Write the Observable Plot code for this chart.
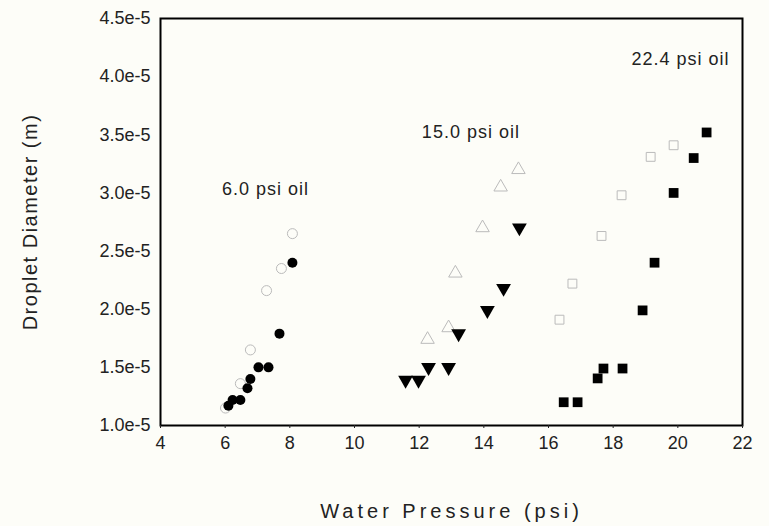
<!DOCTYPE html>
<html><head>
<meta charset="utf-8">
<script src="https://cdn.jsdelivr.net/npm/d3@7"></script>
<script src="https://cdn.jsdelivr.net/npm/@observablehq/plot@0.6"></script>
<style>
body{margin:0;background:#fdfdf8;}
#chart svg{background:#fdfdf8;}
</style>
</head><body><div id="chart"></div>
<script>
// 6.0 psi oil
const oil6FilledPressure = [6.1, 6.23, 6.47, 6.69, 6.78, 7.03, 7.34, 7.68, 8.08];
const oil6FilledDiameter = [1.17e-5, 1.22e-5, 1.22e-5, 1.32e-5, 1.40e-5, 1.50e-5, 1.50e-5, 1.79e-5, 2.40e-5];
const oil6OpenPressure = [6.01, 6.47, 6.78, 7.28, 7.74, 8.08];
const oil6OpenDiameter = [1.15e-5, 1.36e-5, 1.65e-5, 2.16e-5, 2.35e-5, 2.65e-5];
// 15.0 psi oil
const oil15FilledPressure = [11.58, 11.98, 12.29, 12.91, 13.22, 14.11, 14.61, 15.10];
const oil15FilledDiameter = [1.39e-5, 1.39e-5, 1.50e-5, 1.50e-5, 1.79e-5, 1.99e-5, 2.18e-5, 2.70e-5];
const oil15OpenPressure = [12.26, 12.91, 13.12, 13.96, 14.52, 15.07];
const oil15OpenDiameter = [1.74e-5, 1.84e-5, 2.31e-5, 2.70e-5, 3.05e-5, 3.20e-5];
// 22.4 psi oil
const oil22FilledPressure = [16.47, 16.9, 17.52, 17.70, 18.29, 18.91, 19.28, 19.87, 20.49, 20.89];
const oil22FilledDiameter = [1.2e-5, 1.2e-5, 1.405e-5, 1.49e-5, 1.49e-5, 1.99e-5, 2.40e-5, 3.0e-5, 3.30e-5, 3.52e-5];
const oil22OpenPressure = [16.34, 16.74, 17.64, 18.26, 19.16, 19.87];
const oil22OpenDiameter = [1.91e-5, 2.22e-5, 2.63e-5, 2.98e-5, 3.31e-5, 3.41e-5];

const seriesLabels = ["6.0 psi oil", "15.0 psi oil", "22.4 psi oil"];
const labelPressure = [7.25, 13.6, 20.08];
const labelDiameter = [3.03e-5, 3.52e-5, 4.15e-5];

const xTicks = [4, 6, 8, 10, 12, 14, 16, 18, 20, 22];
const yTicks = [1.0e-5, 1.5e-5, 2.0e-5, 2.5e-5, 3.0e-5, 3.5e-5, 4.0e-5, 4.5e-5];

const rows = (xs, ys) => xs.map((x, i) => ({x, y: ys[i]}));
const labels = seriesLabels.map((t, i) => ({t, x: labelPressure[i], y: labelDiameter[i]}));

const chart = Plot.plot({
  width: 769, height: 526,
  marginLeft: 160, marginRight: 27, marginTop: 18, marginBottom: 101,
  style: {fontFamily: "Liberation Sans, Arial, sans-serif", fontSize: "18px", background: "#fdfdf8", color: "#222"},
  x: {domain: [4, 22]},
  y: {domain: [1.0e-5, 4.5e-5]},
  marks: [
    Plot.frame({stroke: "black", strokeWidth: 2}),
    Plot.axisX({ticks: xTicks, tickFormat: d => String(d), tickSize: 3, tickPadding: 8, fontSize: 18,
      label: null}),
    Plot.axisY({ticks: yTicks, tickFormat: d => d.toExponential(1), tickSize: 0, tickPadding: 10, fontSize: 18,
      label: null}),
    Plot.text(["Water Pressure (psi)"], {frameAnchor: "bottom", dy: 92, fontSize: 20, fill: "#222"}),
    Plot.text(["Droplet Diameter (m)"], {frameAnchor: "left", textAnchor: "middle", dx: -130, rotate: -90, fontSize: 20, fill: "#222"}),
    Plot.dot(rows(oil6OpenPressure, oil6OpenDiameter), {x: "x", y: "y", symbol: "circle", r: 5, stroke: "#bbb", strokeWidth: 1, fill: "none"}),
    Plot.dot(rows(oil15OpenPressure, oil15OpenDiameter), {x: "x", y: "y", symbol: "triangle", r: 5, stroke: "#bbb", strokeWidth: 1, fill: "none"}),
    Plot.dot(rows(oil22OpenPressure, oil22OpenDiameter), {x: "x", y: "y", symbol: "square", r: 5, stroke: "#bbb", strokeWidth: 1, fill: "none"}),
    Plot.dot(rows(oil6FilledPressure, oil6FilledDiameter), {x: "x", y: "y", symbol: "circle", r: 5, fill: "black", stroke: "none"}),
    Plot.dot(rows(oil15FilledPressure, oil15FilledDiameter), {x: "x", y: "y", symbol: "triangle", rotate: 180, r: 5.5, fill: "black", stroke: "none"}),
    Plot.dot(rows(oil22FilledPressure, oil22FilledDiameter), {x: "x", y: "y", symbol: "square", r: 5.5, fill: "black", stroke: "none"}),
    Plot.text(labels, {x: "x", y: "y", text: "t", fontSize: 18, fill: "#222"})
  ]
});
document.getElementById("chart").append(chart);
// letter spacing for axis titles and annotations (styling only)
chart.querySelectorAll("text").forEach(t => {
  const s = t.textContent;
  if (s === "Water Pressure (psi)") t.setAttribute("letter-spacing", "4");
  if (s === "Droplet Diameter (m)") t.setAttribute("letter-spacing", "1.5");
  if (s.endsWith("psi oil")) t.setAttribute("letter-spacing", "1");
});
</script>
</body></html>
